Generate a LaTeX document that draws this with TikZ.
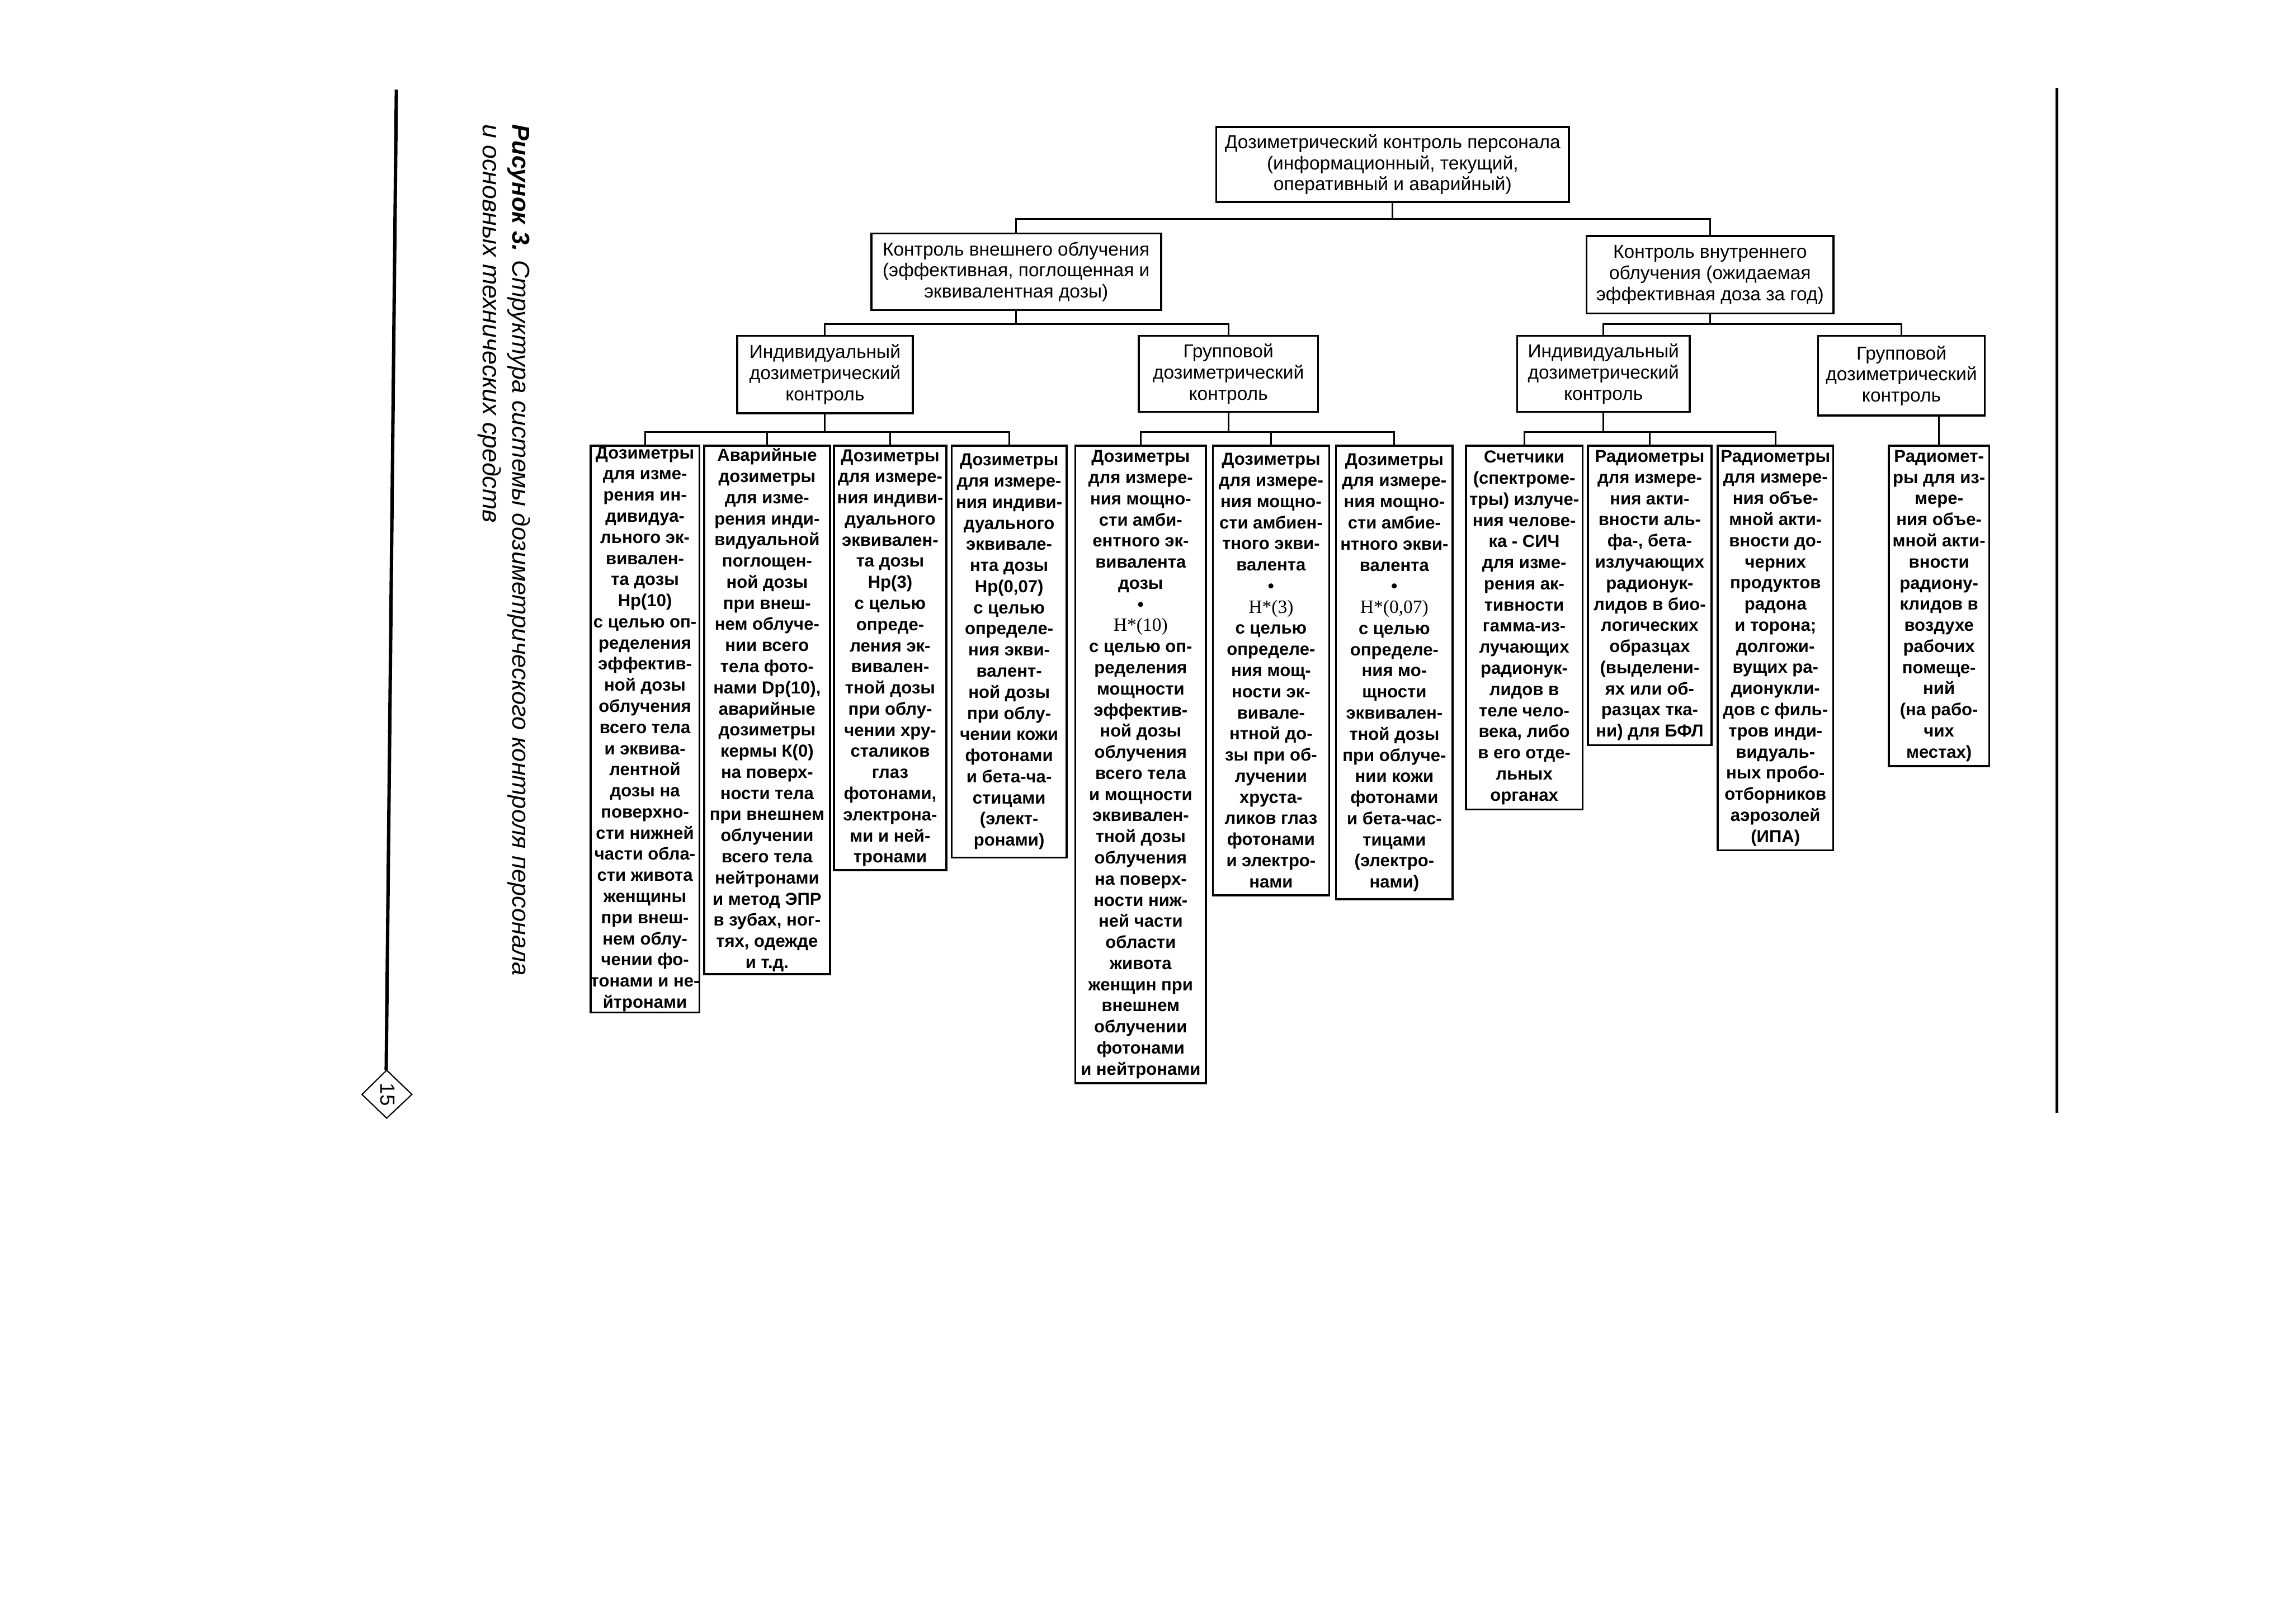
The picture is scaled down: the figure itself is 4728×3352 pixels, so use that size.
\documentclass[tikz,border=0pt]{standalone}
\usepackage{fontspec}
\setmainfont{Liberation Sans}
\newfontfamily\serifH{Liberation Serif}
\usetikzlibrary{calc}
\tikzset{
  ubox/.style={draw, line width=1.2pt, align=center, inner sep=0pt,
    font=\fontsize{11}{12.4}\selectfont},
  lbox/.style={draw, line width=1.2pt, align=center, inner sep=0pt,
    font=\bfseries\fontsize{10.2}{12.4}\selectfont},
  conn/.style={line width=1pt},
  capt/.style={rotate=-90, anchor=base west, inner sep=0pt, font=\itshape},
}
\newcommand\bx[7][]{\node[#1, minimum width={(#5-#3)*0.01cm}, minimum height={(#6-#4)*0.01cm}] (#2) at ({(#3+#5)/2},{(#4+#6)/2}) {#7};}
\newcommand\hstar[1]{{\serifH\mdseries\fontsize{11}{12.4}\selectfont H*(#1)}}
\begin{document}
\begin{tikzpicture}[x=0.01cm,y=-0.01cm]
\useasboundingbox (0,0) rectangle (4728,3352);
\fill[white] (0,0) rectangle (4728,3352);

% page frame lines
\draw[line width=2pt] (818,185) -- (797,2209);
\draw[line width=1.6pt] (4245,181) -- (4245,2297);
\draw[line width=0.7pt] (747,2259) -- (798,2209) -- (850,2259) -- (798,2308) -- cycle;
\node[rotate=-90, inner sep=0pt, font=\fontsize{12}{12}\selectfont] (pg) at (800,2259) {15};

% caption
\node[capt, font=\itshape\fontsize{14.3}{18}\selectfont] (cap1) at (1058,256) {\textbf{Рисунок 3.} Структура системы дозиметрического контроля персонала};
\node[capt, font=\itshape\fontsize{14.7}{18}\selectfont] (cap2) at (997,256) {и основных технических средств};

% upper levels
\bx[ubox]{root}{2510}{262}{3238}{417}{Дозиметрический контроль персонала\\(информационный, текущий,\\оперативный и аварийный)}
\bx[ubox]{ext}{1798}{482}{2396}{640}{Контроль внешнего облучения\\(эффективная, поглощенная и\\эквивалентная дозы)}
\bx[ubox]{int}{3274}{487}{3784}{647}{Контроль внутреннего\\облучения (ожидаемая\\эффективная доза за год)}
\bx[ubox]{ie}{1521}{693}{1884}{853}{Индивидуальный\\дозиметрический\\контроль}
\bx[ubox]{ge}{2350}{693}{2720}{850}{Групповой\\дозиметрический\\контроль}
\bx[ubox]{ii}{3131}{693}{3487}{850}{Индивидуальный\\дозиметрический\\контроль}
\bx[ubox]{gi}{3752}{693}{4096}{858}{Групповой\\дозиметрический\\контроль}

% leaves
\bx[lbox]{b1}{1221}{920}{1441}{2090}{Дозиметры\\для изме-\\рения ин-\\дивидуа-\\льного эк-\\вивален-\\та дозы\\Hp(10)\\с целью оп-\\ределения\\эффектив-\\ной дозы\\облучения\\всего тела\\и эквива-\\лентной\\дозы на\\поверхно-\\сти нижней\\части обла-\\сти живота\\женщины\\при внеш-\\нем облу-\\чении фо-\\тонами и не-\\йтронами}
\bx[lbox]{b2}{1453}{920}{1713}{2011}{Аварийные\\дозиметры\\для изме-\\рения инди-\\видуальной\\поглощен-\\ной дозы\\при внеш-\\нем облуче-\\нии всего\\тела фото-\\нами Dp(10),\\аварийные\\дозиметры\\кермы К(0)\\на поверх-\\ности тела\\при внешнем\\облучении\\всего тела\\нейтронами\\и метод ЭПР\\в зубах, ног-\\тях, одежде\\и т.д.}
\bx[lbox]{b3}{1721}{920}{1953}{1796}{Дозиметры\\для измере-\\ния индиви-\\дуального\\эквивален-\\та дозы\\Hp(3)\\с целью\\опреде-\\ления эк-\\вивален-\\тной дозы\\при облу-\\чении хру-\\сталиков\\глаз\\фотонами,\\электрона-\\ми и ней-\\тронами}
\bx[lbox]{b4}{1964}{920}{2201}{1770}{Дозиметры\\для измере-\\ния индиви-\\дуального\\эквивале-\\нта дозы\\Hp(0,07)\\с целью\\определе-\\ния экви-\\валент-\\ной дозы\\при облу-\\чении кожи\\фотонами\\и бета-ча-\\стицами\\(элект-\\ронами)}
\bx[lbox]{b5}{2219}{920}{2489}{2236}{Дозиметры\\для измере-\\ния мощно-\\сти амби-\\ентного эк-\\вивалента\\дозы\\\textbullet\\\hstar{10}\\с целью оп-\\ределения\\мощности\\эффектив-\\ной дозы\\облучения\\всего тела\\и мощности\\эквивален-\\тной дозы\\облучения\\на поверх-\\ности ниж-\\ней части\\области\\живота\\женщин при\\внешнем\\облучении\\фотонами\\и нейтронами}
\bx[lbox]{b6}{2503}{920}{2743}{1848}{Дозиметры\\для измере-\\ния мощно-\\сти амбиен-\\тного экви-\\валента\\\textbullet\\\hstar{3}\\с целью\\определе-\\ния мощ-\\ности эк-\\вивале-\\нтной до-\\зы при об-\\лучении\\хруста-\\ликов глаз\\фотонами\\и электро-\\нами}
\bx[lbox]{b7}{2757}{920}{2998}{1856}{Дозиметры\\для измере-\\ния мощно-\\сти амбие-\\нтного экви-\\валента\\\textbullet\\\hstar{0,07}\\с целью\\определе-\\ния мо-\\щности\\эквивален-\\тной дозы\\при облуче-\\нии кожи\\фотонами\\и бета-час-\\тицами\\(электро-\\нами)}
\bx[lbox]{b8}{3025}{920}{3266}{1671}{Счетчики\\(спектроме-\\тры) излуче-\\ния челове-\\ка - СИЧ\\для изме-\\рения ак-\\тивности\\гамма-из-\\лучающих\\радионук-\\лидов в\\теле чело-\\века, либо\\в его отде-\\льных\\органах}
\bx[lbox]{b9}{3277}{920}{3532}{1538}{Радиометры\\для измере-\\ния акти-\\вности аль-\\фа-, бета-\\излучающих\\радионук-\\лидов в био-\\логических\\образцах\\(выделени-\\ях или об-\\разцах тка-\\ни) для БФЛ}
\bx[lbox]{b10}{3545}{920}{3783}{1755}{Радиометры\\для измере-\\ния объе-\\мной акти-\\вности до-\\черних\\продуктов\\радона\\и торона;\\долгожи-\\вущих ра-\\дионукли-\\дов с филь-\\тров инди-\\видуаль-\\ных пробо-\\отборников\\аэрозолей\\(ИПА)}
\bx[lbox]{b11}{3898}{920}{4105}{1581}{Радиомет-\\ры для из-\\мере-\\ния объе-\\мной акти-\\вности\\радиону-\\клидов в\\воздухе\\рабочих\\помеще-\\ний\\(на рабо-\\чих\\местах)}

% connectors level 1
\draw[conn] (root.south) -- (root.south |- 0,452);
\draw[conn] (ext.north) -- (ext.north |- 0,452) -- (int.north |- 0,452) -- (int.north);
% level 2
\draw[conn] (ext.south) -- (ext.south |- 0,669);
\draw[conn] (ie.north) -- (ie.north |- 0,669) -- (ge.north |- 0,669) -- (ge.north);
\draw[conn] (int.south) -- (int.south |- 0,669);
\draw[conn] (ii.north) -- (ii.north |- 0,669) -- (gi.north |- 0,669) -- (gi.north);
% level 3
\draw[conn] (ie.south) -- (ie.south |- 0,892);
\draw[conn] (b1.north) -- (b1.north |- 0,892) -- (b4.north |- 0,892) -- (b4.north);
\draw[conn] (b2.north) -- (b2.north |- 0,892);
\draw[conn] (b3.north) -- (b3.north |- 0,892);
\draw[conn] (ge.south) -- (ge.south |- 0,892);
\draw[conn] (b5.north) -- (b5.north |- 0,892) -- (b7.north |- 0,892) -- (b7.north);
\draw[conn] (b6.north) -- (b6.north |- 0,892);
\draw[conn] (ii.south) -- (ii.south |- 0,892);
\draw[conn] (b8.north) -- (b8.north |- 0,892) -- (b10.north |- 0,892) -- (b10.north);
\draw[conn] (b9.north) -- (b9.north |- 0,892);
\draw[conn] (b11.north) -- (b11.north |- gi.south);
\end{tikzpicture}
\end{document}
